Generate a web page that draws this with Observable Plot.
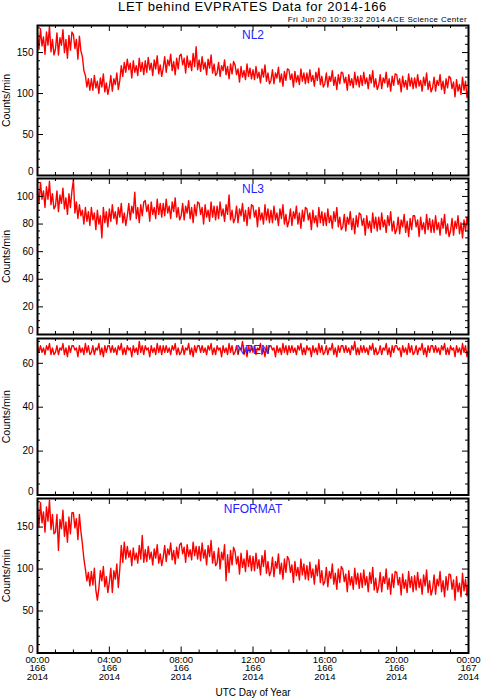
<!DOCTYPE html>
<html><head><meta charset="utf-8">
<script src="https://cdn.jsdelivr.net/npm/d3@7"></script>
<script src="https://cdn.jsdelivr.net/npm/@observablehq/plot@0.6"></script>
<style>
body{margin:0;background:#fff;font-family:"Liberation Sans",Arial,Helvetica,sans-serif;}
#wrap{position:relative;width:481px;height:700px;overflow:hidden;background:#fff;}
.t{position:absolute;white-space:nowrap;color:#000;}
#title{left:37px;width:431px;top:0px;text-align:center;font-size:13px;line-height:13px;letter-spacing:0.6px;}
#sub{right:14px;top:16px;font-size:8px;line-height:8px;letter-spacing:0.35px;}
.p{position:absolute;left:0;}
</style></head><body>
<div id="wrap">
<div class="t" id="title">LET behind EVPRATES Data for 2014-166</div>
<div class="t" id="sub">Fri Jun 20 10:39:32 2014 ACE Science Center</div>
</div>
<script>
// ---- data: 5-minute samples, UTC hours 00:00 (day 166) .. 00:00 (day 167), counts/min ----
const nl2 = [
173,154,179,158,169,148,175,159,182,151,166,147,
154,174,147,168,159,178,150,166,143,171,153,175,
172,155,166,142,170,152,145,128,122,108,118,104,
118,104,122,107,115,100,119,108,124,102,113,99,
108,122,103,118,111,125,105,116,134,121,138,126,
142,129,137,119,140,126,134,122,143,127,138,123,
140,126,144,129,137,122,141,130,146,124,135,121,
131,145,126,141,134,148,128,139,123,143,130,146,
148,135,143,125,146,132,140,128,149,133,157,129,
141,127,145,130,138,123,142,131,147,125,136,122,
125,138,121,134,128,141,123,133,118,136,124,139,
135,123,130,114,133,120,128,117,136,121,131,118,
129,117,133,119,126,113,130,120,135,115,125,112,
116,129,112,125,119,132,114,124,109,127,116,130,
129,117,124,108,127,114,122,111,130,115,125,112,
125,113,129,115,122,109,126,116,131,111,121,108,
112,125,108,121,115,128,110,120,105,123,112,126,
125,113,120,104,123,110,118,107,126,111,121,108,
122,110,126,112,119,106,123,113,128,108,118,105,
110,123,106,119,113,126,108,118,103,121,110,124,
123,111,118,102,121,108,116,105,124,109,119,106,
119,107,123,109,116,103,120,110,125,105,115,102,
107,120,103,116,110,123,105,115,100,118,107,121,
119,106,114,96,117,103,111,99,120,104,115,95,
104];
const nl3 = [
106,95,110,98,104,92,107,98,111,94,102,91,
93,104,89,101,95,106,91,99,87,102,92,104,
112,88,96,84,94,86,90,80,92,82,89,79,
92,83,88,76,90,80,86,70,92,81,89,78,
91,82,94,84,89,80,92,85,95,81,88,79,
86,95,83,93,88,103,84,92,81,94,86,96,
97,89,94,82,96,87,92,84,98,87,95,85,
95,86,98,88,93,84,96,89,99,85,92,83,
86,95,83,93,88,97,84,92,81,94,86,96,
95,87,92,80,94,85,90,82,96,85,93,83,
93,84,96,86,91,82,94,87,101,83,90,81,
84,93,81,91,86,95,82,90,79,92,84,94,
93,85,90,78,92,83,88,80,94,83,91,81,
90,81,93,83,88,79,91,84,94,80,87,78,
82,91,79,89,84,93,80,88,77,90,82,92,
91,83,88,76,90,81,86,78,92,81,89,79,
88,79,91,81,86,77,89,82,92,78,85,76,
78,87,75,85,80,89,76,84,73,86,78,88,
87,79,84,72,86,77,82,74,88,77,85,75,
85,76,88,78,83,74,86,79,89,75,82,73,
76,85,73,83,78,87,74,82,71,84,76,86,
86,78,83,71,85,76,81,73,87,76,84,74,
83,74,86,76,81,72,84,77,87,73,80,71,
75,84,72,82,77,86,73,81,70,83,75,85,
79];
const npen = [
68,65,68,65,67,64,68,66,69,64,67,64,
65,68,64,67,66,69,64,67,63,68,65,68,
68,66,67,63,68,65,67,64,69,65,68,64,
65,68,64,67,66,69,64,67,63,68,65,68,
68,65,68,65,67,64,68,66,69,64,67,64,
68,66,67,63,68,65,67,64,70,65,68,64,
68,66,67,63,68,65,67,64,69,65,68,64,
68,65,68,65,67,64,68,66,69,64,67,64,
65,68,64,67,66,69,64,67,63,68,65,68,
68,65,68,65,67,64,68,66,69,64,67,64,
68,66,67,63,68,65,67,64,69,65,68,64,
65,68,64,67,66,70,64,67,63,68,65,68,
65,68,64,67,66,69,64,67,63,68,65,68,
68,66,67,63,68,65,67,64,69,65,68,64,
68,65,68,65,67,64,68,66,69,64,67,64,
68,66,67,63,68,65,67,64,69,65,68,64,
65,68,64,67,66,69,64,67,63,68,65,68,
68,65,68,65,67,64,68,66,70,64,67,64,
68,65,68,65,67,64,68,66,69,64,67,64,
65,68,64,67,66,69,64,67,63,68,65,68,
68,66,67,63,68,65,67,64,69,65,68,64,
65,68,64,67,66,69,64,67,63,68,65,68,
68,65,68,65,67,64,68,66,69,64,67,64,
68,66,67,63,68,65,67,64,69,65,68,63,
66];
const nformat = [
173,150,179,155,168,144,174,157,182,147,165,142,
144,165,122,159,148,170,139,156,132,162,142,167,
167,149,160,135,165,145,130,112,100,86,96,80,
97,81,101,75,63,77,98,86,103,79,91,72,
84,101,72,98,88,106,78,100,128,108,132,112,
127,114,122,104,125,111,119,107,128,112,140,108,
123,109,127,112,120,105,124,113,129,107,118,104,
114,128,109,124,117,131,111,122,106,126,113,129,
131,118,126,108,129,115,123,111,132,116,127,112,
127,110,131,113,123,105,128,115,134,107,121,104,
107,125,100,120,111,129,86,117,96,122,105,126,
121,106,115,94,119,102,112,97,122,103,116,98,
115,98,119,101,111,93,116,103,122,95,109,92,
97,114,91,109,101,118,94,107,88,112,96,115,
111,96,105,84,109,92,102,87,112,93,106,88,
104,87,108,90,100,82,105,92,111,84,98,81,
85,102,79,97,89,106,82,95,76,100,84,103,
100,85,94,73,98,81,91,76,101,82,95,77,
95,78,99,81,91,73,96,83,102,75,89,72,
79,96,73,91,83,100,76,89,70,94,78,97,
96,81,90,69,94,77,87,72,97,78,91,73,
92,75,96,78,88,70,93,80,99,72,86,69,
76,93,70,88,80,97,73,86,67,91,75,94,
93,76,87,63,91,73,83,67,95,74,88,68,
82];

// ---- axis ticks & labels ----
const xMajor = [0, 4, 8, 12, 16, 20, 24];
const xMinor = [1, 2, 3, 5, 6, 7, 9, 10, 11, 13, 14, 15, 17, 18, 19, 21, 22, 23];
const xTimeLabels = ["00:00", "04:00", "08:00", "12:00", "16:00", "20:00", "00:00"];
const xDayLabels = ["166", "166", "166", "166", "166", "166", "167"];
const xYearLabels = ["2014", "2014", "2014", "2014", "2014", "2014", "2014"];
const panelNames = ["NL2", "NL3", "NPEN", "NFORMAT"];
const yMajor1 = [0, 50, 100, 150];
const yMinor1 = [10, 20, 30, 40, 60, 70, 80, 90, 110, 120, 130, 140, 160, 170, 180];
const yMajor2 = [0, 20, 40, 60, 80, 100];
const yMinor2 = [5, 10, 15, 25, 30, 35, 45, 50, 55, 65, 70, 75, 85, 90, 95, 105, 110];
const yMajor3 = [0, 20, 40, 60];
const yMinor3 = [5, 10, 15, 25, 30, 35, 45, 50, 55, 65, 70];

const FONT = '"Liberation Sans", Arial, Helvetica, sans-serif';
const W = 431;

function panel(values, name, domain, major, minor, top, bottom, labelDy, last) {
  const mt = 3, mb = last ? 700 - bottom : 3;
  const H = bottom - top;
  const n = values.length - 1;
  const data = values.map((v, i) => ({t: (i * 24) / n, v}));
  const marks = [
    Plot.line(data, {x: "t", y: "v", stroke: "#ff0000", strokeWidth: 1.4, clip: true}),
    Plot.text([name], {frameAnchor: "top", dy: labelDy, lineAnchor: "bottom", text: d => d, fill: "#2222ff", fontSize: 12}),
    Plot.tickY(major, {y: d => d, insetRight: W - 6, stroke: "#000"}),
    Plot.tickY(major, {y: d => d, insetLeft: W - 6, stroke: "#000"}),
    Plot.tickY(minor, {y: d => d, insetRight: W - 3, stroke: "#000"}),
    Plot.tickY(minor, {y: d => d, insetLeft: W - 3, stroke: "#000"}),
    Plot.tickX(xMajor, {x: d => d, insetBottom: H - 6, stroke: "#000"}),
    Plot.tickX(xMajor, {x: d => d, insetTop: H - 6, stroke: "#000"}),
    Plot.tickX(xMinor, {x: d => d, insetBottom: H - 3, stroke: "#000"}),
    Plot.tickX(xMinor, {x: d => d, insetTop: H - 3, stroke: "#000"}),
    Plot.text(major.filter(d => d !== 0), {y: d => d, text: d => String(d), frameAnchor: "left", dx: -4, textAnchor: "end", fontSize: 10}),
    Plot.text(major.filter(d => d === 0), {y: d => d, text: d => String(d), frameAnchor: "left", dx: -4, dy: -3.5, textAnchor: "end", fontSize: 10}),
    Plot.text(["Counts/min"], {frameAnchor: "left", dx: -31.3, rotate: -90, textAnchor: "middle", text: d => d, fontSize: 10.5}),
    Plot.frame({stroke: "#000", strokeWidth: 2})
  ];
  if (last) {
    marks.push(
      Plot.text(xMajor, {x: d => d, text: (d, i) => xTimeLabels[i], frameAnchor: "bottom", lineAnchor: "bottom", dy: 9.7, fontSize: 9.6}),
      Plot.text(xMajor, {x: d => d, text: (d, i) => xDayLabels[i], frameAnchor: "bottom", lineAnchor: "bottom", dy: 18.2, fontSize: 9.6}),
      Plot.text(xMajor, {x: d => d, text: (d, i) => xYearLabels[i], frameAnchor: "bottom", lineAnchor: "bottom", dy: 26.7, fontSize: 9.6}),
      Plot.text(["UTC Day of Year"], {frameAnchor: "bottom", dy: 42.5, lineAnchor: "bottom", text: d => d, fontSize: 10})
    );
  }
  const svg = Plot.plot({
    width: 481, height: H + mt + mb,
    marginLeft: 37, marginRight: 13, marginTop: mt, marginBottom: mb,
    x: {domain: [0, 24], axis: null},
    y: {domain, axis: null},
    style: {fontFamily: FONT, background: "transparent", overflow: "visible", color: "#000"},
    marks
  });
  svg.classList.add("p");
  svg.style.top = (top - mt) + "px";
  document.getElementById("wrap").appendChild(svg);
}

panel(nl2, panelNames[0], [0, 183], yMajor1, yMinor1, 25, 175, 13.3, false);
panel(nl3, panelNames[1], [0, 113], yMajor2, yMinor2, 177.5, 333.5, 14.8, false);
panel(npen, panelNames[2], [0, 71.3], yMajor3, yMinor3, 337.5, 494, 15.3, false);
panel(nformat, panelNames[3], [0, 184], yMajor1, yMinor1, 497.5, 652, 14.5, true);
</script>
</body></html>
